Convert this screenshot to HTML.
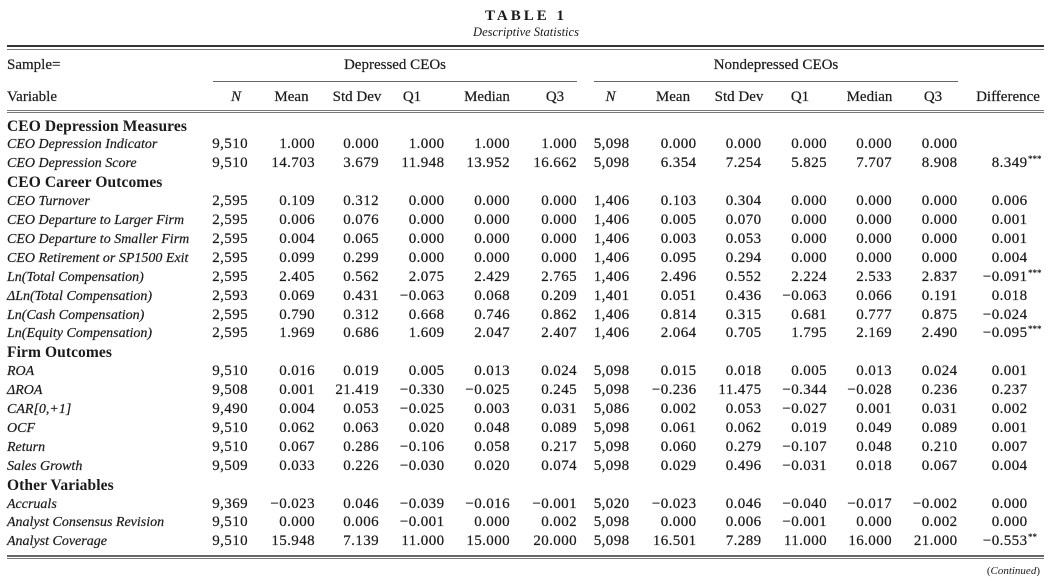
<!DOCTYPE html>
<html>
<head>
<meta charset="utf-8">
<style>
  html,body{margin:0;padding:0;background:#fff;}
  body{width:1052px;height:584px;position:relative;overflow:hidden;
       font-family:"Liberation Serif","DejaVu Serif",serif;color:#1a1a1a;}
  .abs{position:absolute;}
  .line{position:absolute;left:7px;width:1037px;}
  .t1{top:8px;left:0;width:1052px;text-align:center;font-weight:bold;font-size:15px;letter-spacing:3px;line-height:16px;}
  .t2{top:25px;left:0;width:1052px;text-align:center;font-style:italic;font-size:12.5px;line-height:15px;}
  .r{position:absolute;left:0;width:1052px;height:19px;line-height:19px;font-size:15px;-webkit-text-stroke:0.2px #1a1a1a;}
  .r span{position:absolute;white-space:nowrap;letter-spacing:0.4px;}
  .r .l{left:7px;font-style:italic;font-size:14px;letter-spacing:0;}
  .r .b{left:7px;font-weight:bold;font-size:15.5px;letter-spacing:0.1px;-webkit-text-stroke:0;}
  .c1{right:804px}.c2{right:737px}.c3{right:673px}.c4{right:607.5px}.c5{right:542px}.c6{right:475px}
  .c7{right:422.5px}.c8{right:355.5px}.c9{right:290.5px}.c10{right:225px}.c11{right:160px}.c12{right:94.5px}
  .c13{right:24.5px}
  .r .st{left:1028px;font-size:9px;top:-4px;letter-spacing:0;}
  .h{position:absolute;height:19px;line-height:19px;font-size:15px;white-space:nowrap;transform:translateX(-50%);-webkit-text-stroke:0.2px #1a1a1a;}
</style>
</head>
<body>
<div class="abs t1">TABLE 1</div>
<div class="abs t2">Descriptive Statistics</div>

<div class="line" style="top:45px;height:2px;background:#333;"></div>
<div class="line" style="top:49px;height:1px;background:#777;"></div>

<div class="r" style="top:55.5px;"><span class="l" style="font-style:normal;font-size:15px;">Sample=</span></div>
<div class="h" style="left:395px;top:55.5px;">Depressed CEOs</div>
<div class="h" style="left:776px;top:55.5px;">Nondepressed CEOs</div>
<div class="abs" style="left:213px;width:364px;top:80.5px;height:1.5px;background:#666;"></div>
<div class="abs" style="left:594px;width:364px;top:80.5px;height:1.5px;background:#666;"></div>

<div class="r" style="top:87.5px;"><span class="l" style="font-style:normal;font-size:15px;">Variable</span></div>
<div class="h" style="left:236px;top:87.5px;font-style:italic;">N</div>
<div class="h" style="left:291.5px;top:87.5px;">Mean</div>
<div class="h" style="left:357px;top:87.5px;">Std Dev</div>
<div class="h" style="left:412px;top:87.5px;">Q1</div>
<div class="h" style="left:487px;top:87.5px;">Median</div>
<div class="h" style="left:555px;top:87.5px;">Q3</div>
<div class="h" style="left:610.5px;top:87.5px;font-style:italic;">N</div>
<div class="h" style="left:673px;top:87.5px;">Mean</div>
<div class="h" style="left:739px;top:87.5px;">Std Dev</div>
<div class="h" style="left:800px;top:87.5px;">Q1</div>
<div class="h" style="left:869.5px;top:87.5px;">Median</div>
<div class="h" style="left:933px;top:87.5px;">Q3</div>
<div class="h" style="left:1008px;top:87.5px;">Difference</div>

<div class="line" style="top:109.5px;height:1px;background:#777;"></div>
<div class="line" style="top:112px;height:1px;background:#777;"></div>

<div class="r" style="top:116.5px;"><span class="b">CEO Depression Measures</span></div>
<div class="r" style="top:135.4px;"><span class="l">CEO Depression Indicator</span><span class="c1">9,510</span><span class="c2">1.000</span><span class="c3">0.000</span><span class="c4">1.000</span><span class="c5">1.000</span><span class="c6">1.000</span><span class="c7">5,098</span><span class="c8">0.000</span><span class="c9">0.000</span><span class="c10">0.000</span><span class="c11">0.000</span><span class="c12">0.000</span></div>
<div class="r" style="top:154.3px;"><span class="l">CEO Depression Score</span><span class="c1">9,510</span><span class="c2">14.703</span><span class="c3">3.679</span><span class="c4">11.948</span><span class="c5">13.952</span><span class="c6">16.662</span><span class="c7">5,098</span><span class="c8">6.354</span><span class="c9">7.254</span><span class="c10">5.825</span><span class="c11">7.707</span><span class="c12">8.908</span><span class="c13">8.349</span><span class="st">***</span></div>
<div class="r" style="top:173.2px;"><span class="b">CEO Career Outcomes</span></div>
<div class="r" style="top:192.1px;"><span class="l">CEO Turnover</span><span class="c1">2,595</span><span class="c2">0.109</span><span class="c3">0.312</span><span class="c4">0.000</span><span class="c5">0.000</span><span class="c6">0.000</span><span class="c7">1,406</span><span class="c8">0.103</span><span class="c9">0.304</span><span class="c10">0.000</span><span class="c11">0.000</span><span class="c12">0.000</span><span class="c13">0.006</span></div>
<div class="r" style="top:211px;"><span class="l">CEO Departure to Larger Firm</span><span class="c1">2,595</span><span class="c2">0.006</span><span class="c3">0.076</span><span class="c4">0.000</span><span class="c5">0.000</span><span class="c6">0.000</span><span class="c7">1,406</span><span class="c8">0.005</span><span class="c9">0.070</span><span class="c10">0.000</span><span class="c11">0.000</span><span class="c12">0.000</span><span class="c13">0.001</span></div>
<div class="r" style="top:229.9px;"><span class="l">CEO Departure to Smaller Firm</span><span class="c1">2,595</span><span class="c2">0.004</span><span class="c3">0.065</span><span class="c4">0.000</span><span class="c5">0.000</span><span class="c6">0.000</span><span class="c7">1,406</span><span class="c8">0.003</span><span class="c9">0.053</span><span class="c10">0.000</span><span class="c11">0.000</span><span class="c12">0.000</span><span class="c13">0.001</span></div>
<div class="r" style="top:248.8px;"><span class="l">CEO Retirement or SP1500 Exit</span><span class="c1">2,595</span><span class="c2">0.099</span><span class="c3">0.299</span><span class="c4">0.000</span><span class="c5">0.000</span><span class="c6">0.000</span><span class="c7">1,406</span><span class="c8">0.095</span><span class="c9">0.294</span><span class="c10">0.000</span><span class="c11">0.000</span><span class="c12">0.000</span><span class="c13">0.004</span></div>
<div class="r" style="top:267.7px;"><span class="l">Ln(Total Compensation)</span><span class="c1">2,595</span><span class="c2">2.405</span><span class="c3">0.562</span><span class="c4">2.075</span><span class="c5">2.429</span><span class="c6">2.765</span><span class="c7">1,406</span><span class="c8">2.496</span><span class="c9">0.552</span><span class="c10">2.224</span><span class="c11">2.533</span><span class="c12">2.837</span><span class="c13">−0.091</span><span class="st">***</span></div>
<div class="r" style="top:286.6px;"><span class="l">ΔLn(Total Compensation)</span><span class="c1">2,593</span><span class="c2">0.069</span><span class="c3">0.431</span><span class="c4">−0.063</span><span class="c5">0.068</span><span class="c6">0.209</span><span class="c7">1,401</span><span class="c8">0.051</span><span class="c9">0.436</span><span class="c10">−0.063</span><span class="c11">0.066</span><span class="c12">0.191</span><span class="c13">0.018</span></div>
<div class="r" style="top:305.5px;"><span class="l">Ln(Cash Compensation)</span><span class="c1">2,595</span><span class="c2">0.790</span><span class="c3">0.312</span><span class="c4">0.668</span><span class="c5">0.746</span><span class="c6">0.862</span><span class="c7">1,406</span><span class="c8">0.814</span><span class="c9">0.315</span><span class="c10">0.681</span><span class="c11">0.777</span><span class="c12">0.875</span><span class="c13">−0.024</span></div>
<div class="r" style="top:324.4px;"><span class="l">Ln(Equity Compensation)</span><span class="c1">2,595</span><span class="c2">1.969</span><span class="c3">0.686</span><span class="c4">1.609</span><span class="c5">2.047</span><span class="c6">2.407</span><span class="c7">1,406</span><span class="c8">2.064</span><span class="c9">0.705</span><span class="c10">1.795</span><span class="c11">2.169</span><span class="c12">2.490</span><span class="c13">−0.095</span><span class="st">***</span></div>
<div class="r" style="top:343.3px;"><span class="b">Firm Outcomes</span></div>
<div class="r" style="top:362.2px;"><span class="l">ROA</span><span class="c1">9,510</span><span class="c2">0.016</span><span class="c3">0.019</span><span class="c4">0.005</span><span class="c5">0.013</span><span class="c6">0.024</span><span class="c7">5,098</span><span class="c8">0.015</span><span class="c9">0.018</span><span class="c10">0.005</span><span class="c11">0.013</span><span class="c12">0.024</span><span class="c13">0.001</span></div>
<div class="r" style="top:381.1px;"><span class="l">ΔROA</span><span class="c1">9,508</span><span class="c2">0.001</span><span class="c3">21.419</span><span class="c4">−0.330</span><span class="c5">−0.025</span><span class="c6">0.245</span><span class="c7">5,098</span><span class="c8">−0.236</span><span class="c9">11.475</span><span class="c10">−0.344</span><span class="c11">−0.028</span><span class="c12">0.236</span><span class="c13">0.237</span></div>
<div class="r" style="top:400px;"><span class="l">CAR[0,+1]</span><span class="c1">9,490</span><span class="c2">0.004</span><span class="c3">0.053</span><span class="c4">−0.025</span><span class="c5">0.003</span><span class="c6">0.031</span><span class="c7">5,086</span><span class="c8">0.002</span><span class="c9">0.053</span><span class="c10">−0.027</span><span class="c11">0.001</span><span class="c12">0.031</span><span class="c13">0.002</span></div>
<div class="r" style="top:418.9px;"><span class="l">OCF</span><span class="c1">9,510</span><span class="c2">0.062</span><span class="c3">0.063</span><span class="c4">0.020</span><span class="c5">0.048</span><span class="c6">0.089</span><span class="c7">5,098</span><span class="c8">0.061</span><span class="c9">0.062</span><span class="c10">0.019</span><span class="c11">0.049</span><span class="c12">0.089</span><span class="c13">0.001</span></div>
<div class="r" style="top:437.8px;"><span class="l">Return</span><span class="c1">9,510</span><span class="c2">0.067</span><span class="c3">0.286</span><span class="c4">−0.106</span><span class="c5">0.058</span><span class="c6">0.217</span><span class="c7">5,098</span><span class="c8">0.060</span><span class="c9">0.279</span><span class="c10">−0.107</span><span class="c11">0.048</span><span class="c12">0.210</span><span class="c13">0.007</span></div>
<div class="r" style="top:456.7px;"><span class="l">Sales Growth</span><span class="c1">9,509</span><span class="c2">0.033</span><span class="c3">0.226</span><span class="c4">−0.030</span><span class="c5">0.020</span><span class="c6">0.074</span><span class="c7">5,098</span><span class="c8">0.029</span><span class="c9">0.496</span><span class="c10">−0.031</span><span class="c11">0.018</span><span class="c12">0.067</span><span class="c13">0.004</span></div>
<div class="r" style="top:475.6px;"><span class="b">Other Variables</span></div>
<div class="r" style="top:494.5px;"><span class="l">Accruals</span><span class="c1">9,369</span><span class="c2">−0.023</span><span class="c3">0.046</span><span class="c4">−0.039</span><span class="c5">−0.016</span><span class="c6">−0.001</span><span class="c7">5,020</span><span class="c8">−0.023</span><span class="c9">0.046</span><span class="c10">−0.040</span><span class="c11">−0.017</span><span class="c12">−0.002</span><span class="c13">0.000</span></div>
<div class="r" style="top:513.4px;"><span class="l">Analyst Consensus Revision</span><span class="c1">9,510</span><span class="c2">0.000</span><span class="c3">0.006</span><span class="c4">−0.001</span><span class="c5">0.000</span><span class="c6">0.002</span><span class="c7">5,098</span><span class="c8">0.000</span><span class="c9">0.006</span><span class="c10">−0.001</span><span class="c11">0.000</span><span class="c12">0.002</span><span class="c13">0.000</span></div>
<div class="r" style="top:532.3px;"><span class="l">Analyst Coverage</span><span class="c1">9,510</span><span class="c2">15.948</span><span class="c3">7.139</span><span class="c4">11.000</span><span class="c5">15.000</span><span class="c6">20.000</span><span class="c7">5,098</span><span class="c8">16.501</span><span class="c9">7.289</span><span class="c10">11.000</span><span class="c11">16.000</span><span class="c12">21.000</span><span class="c13">−0.553</span><span class="st">**</span></div>

<div class="line" style="top:555px;height:1.5px;background:#666;"></div>
<div class="line" style="top:557.5px;height:1.5px;background:#777;"></div>

<div class="abs" style="right:12px;top:564px;font-size:11px;line-height:14px;white-space:nowrap;">(<i>Continued</i>)</div>
</body>
</html>
